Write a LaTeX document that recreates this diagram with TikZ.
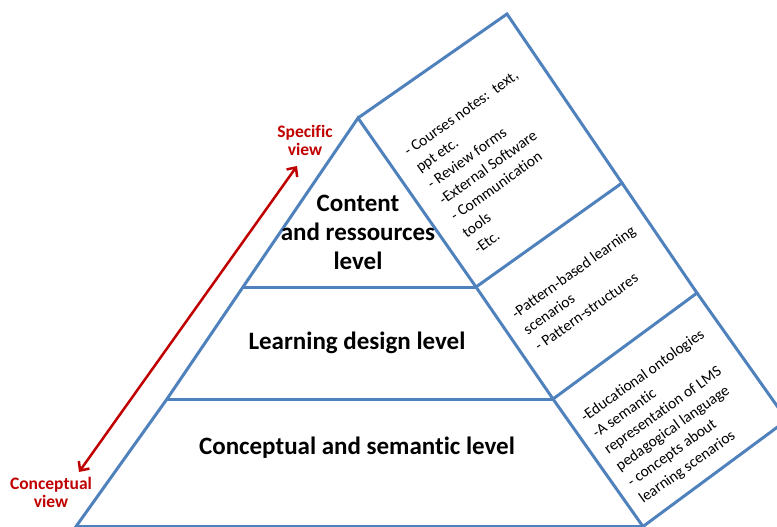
\documentclass[tikz,border=0pt]{standalone}
\usepackage{fontspec}
\setmainfont{Carlito}[Ligatures=NoCommon]
\usetikzlibrary{arrows.meta}
\definecolor{pyblue}{HTML}{4F81BD}
\definecolor{viewred}{HTML}{C00000}
\begin{document}
\begin{tikzpicture}[x=1pt,y=-1pt,
  edge/.style={draw=pyblue,line width=3pt,line join=miter},
  levellbl/.style={font=\fontsize{25}{29}\selectfont\bfseries,align=center,inner sep=0pt},
  facet/.style={font=\fontsize{15.5}{20}\selectfont,align=left,inner sep=0pt,rotate=35.5},
  viewlbl/.style={font=\fontsize{17.5}{18}\selectfont\bfseries,text=viewred,align=center,inner sep=0pt},
  viewarrow/.style={draw=viewred,line width=2.5pt,{Straight Barb[length=7pt,width=13pt]}-{Straight Barb[length=7pt,width=13pt]}}]
\useasboundingbox (0,0) rectangle (777,527);
\clip (0,0) rectangle (777,527);
% pyramid corners
\coordinate (A) at (358,118);
\coordinate (L1) at (243,287);
\coordinate (L2) at (167,399);
\coordinate (L3) at (76,526.5);
\coordinate (D) at (476,287);
\coordinate (F) at (553,399);
\coordinate (G) at (643,526.5);
% side strips
\coordinate (B) at (507,14);
\coordinate (C) at (622,183);
\coordinate (E) at (697,293);
\coordinate (H) at (787,420);
% pyramid
\draw[edge] (A) -- (L1) -- (L2) -- (L3) -- (G) -- (F) -- (D) -- cycle;
\draw[edge] (L1) -- (D);
\draw[edge] (L2) -- (F);
% strips
\draw[edge] (A) -- (B) -- (C) -- (D);
\draw[edge] (C) -- (E) -- (F);
\draw[edge] (E) -- (H) -- (G);
% level labels
\node[levellbl] (content) at (358,232) {Content\\and ressources\\level};
\node[levellbl] (design) at (357,343) {Learning design level};
\node[levellbl] (concept) at (357,448) {Conceptual and semantic level};
% facet texts
\node[facet] (f1) at (496,162) {- Courses notes:\ \ text,\\ppt etc.\\- Review forms\\-External Software\\- Communication\\tools\\-Etc.};
\node[facet] (f2) at (585,288) {-Pattern-based learning\\scenarios\\- Pattern-structures};
\node[facet] (f3) at (672,417) {-Educational ontologies\\-A semantic\\representation of LMS\\pedagogical language\\- concepts about\\learning scenarios};
% view axis
\node[viewlbl] (spec) at (305,140) {Specific\\view};
\node[viewlbl] (concv) at (51,492) {Conceptual\\view};
\coordinate (vlo) at (79,472);
\coordinate (vhi) at (297,166);
\draw[viewarrow] (vlo) -- (vhi);
\end{tikzpicture}
\end{document}
